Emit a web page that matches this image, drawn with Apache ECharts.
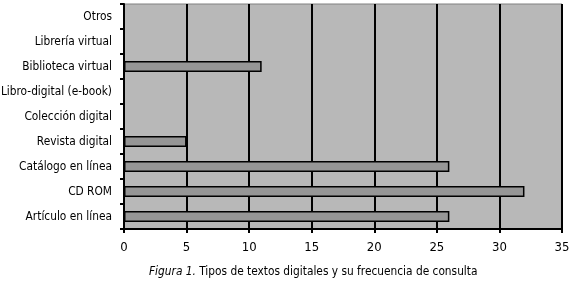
<!DOCTYPE html>
<html><head><meta charset="utf-8">
<script src="https://cdn.jsdelivr.net/npm/echarts@6/dist/echarts.min.js"></script>
<style>html,body{margin:0;padding:0;background:#fff}#c{width:570px;height:289px}</style>
</head><body><div id="c"></div>
<script>
const categories = ["Artículo en línea","CD ROM","Catálogo en línea","Revista digital","Colección digital","Libro-digital (e-book)","Biblioteca virtual","Librería virtual","Otros"];
const values = [26, 32, 26, 5, 0, 0, 11, 0, 0];
const xTicks = [0, 5, 10, 15, 20, 25, 30, 35];
const FONT = '"DejaVu Sans Condensed", sans-serif';
const chart = echarts.init(document.getElementById('c'), null, {renderer:'canvas'});
chart.setOption({
  animation:false,
  textStyle:{fontFamily:FONT},
  grid:{left:124,right:8,top:4,bottom:60,outerBoundsMode:'none',containLabel:false,show:true,backgroundColor:'#b8b8b8',borderColor:'#808080',borderWidth:1},
  xAxis:{type:'value',min:xTicks[0],max:xTicks[xTicks.length-1],interval:5,
    axisLine:{show:true,lineStyle:{color:'#000',width:2}},
    axisTick:{show:true,length:4,lineStyle:{color:'#000',width:2}},
    axisLabel:{color:'#000',fontSize:13,fontFamily:FONT,margin:12},
    splitLine:{show:true,lineStyle:{color:'#000',width:2}}},
  yAxis:{type:'category',data:categories,
    axisLine:{show:true,lineStyle:{color:'#000',width:2}},
    axisTick:{show:true,length:4,lineStyle:{color:'#000',width:2}},
    axisLabel:{color:'#000',fontSize:11.8,fontFamily:FONT,margin:12},
    splitLine:{show:false}},
  series:[{type:'bar',data:values,barWidth:11,
    itemStyle:{color:'#969696',borderColor:'#000',borderWidth:1.5}}],
  graphic:[{type:'text',left:149,top:266,
    style:{rich:{i:{fontStyle:'italic',fontSize:11.8,fontFamily:FONT,fill:'#000'},n:{fontSize:11.8,fontFamily:FONT,fill:'#000'}},
      text:'{i|Figura 1.} {n|Tipos de textos digitales y su frecuencia de consulta}'}}]
});
</script></body></html>
